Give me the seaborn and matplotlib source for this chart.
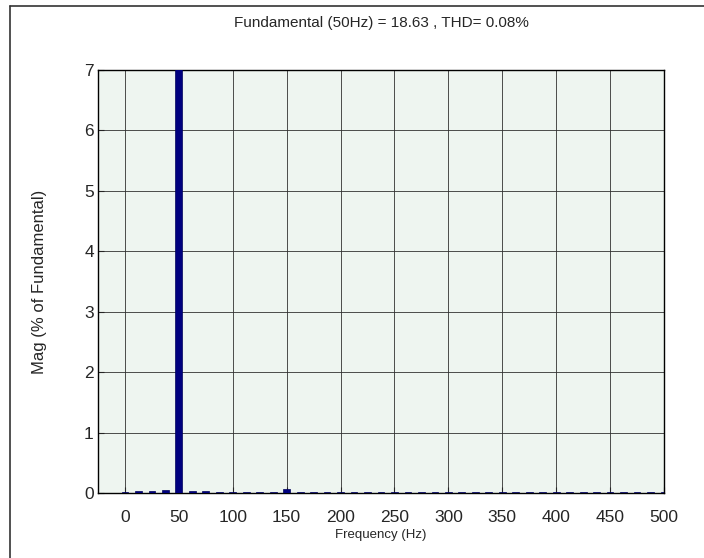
import matplotlib
matplotlib.use("Agg")
import matplotlib.pyplot as plt
import matplotlib.lines as mlines
import seaborn as sns
import pandas as pd
from matplotlib import font_manager

freqs = [0, 12.5, 25, 37.5, 50, 62.5, 75, 87.5, 100, 112.5, 125, 137.5, 150,
         162.5, 175, 187.5, 200, 212.5, 225, 237.5, 250, 262.5, 275, 287.5,
         300, 312.5, 325, 337.5, 350, 362.5, 375, 387.5, 400, 412.5, 425,
         437.5, 450, 462.5, 475, 487.5, 500]
mags = [0.01, 0.03, 0.03, 0.045, 100.0, 0.04, 0.03, 0.015, 0.015, 0.015, 0.015,
        0.015, 0.07, 0.015, 0.015, 0.015, 0.015, 0.015, 0.015, 0.015, 0.015,
        0.015, 0.015, 0.015, 0.015, 0.015, 0.015, 0.015, 0.015, 0.015, 0.015,
        0.015, 0.015, 0.015, 0.015, 0.015, 0.015, 0.015, 0.015, 0.015, 0.015]
xticks = [0, 50, 100, 150, 200, 250, 300, 350, 400, 450, 500]
yticks = [0, 1, 2, 3, 4, 5, 6, 7]
title = "Fundamental (50Hz) = 18.63 , THD= 0.08%"
xlabel = "Frequency (Hz)"
ylabel = "Mag (% of Fundamental)"

sns.set_style("white")
avail = {f.name for f in font_manager.fontManager.ttflist}
narrow = [f for f in ["Liberation Sans Narrow", "Liberation Sans", "DejaVu Sans"] if f in avail]
regular = [f for f in ["Liberation Sans", "DejaVu Sans"] if f in avail]
plt.rcParams["font.family"] = narrow

df = pd.DataFrame({"freq": freqs, "mag": mags})

fig = plt.figure(figsize=(7.04, 5.58), dpi=100)
ax = fig.add_axes([98 / 704, 1 - 493 / 558, (664 - 98) / 704, (493 - 70) / 558])
ax.set_facecolor("#eef5f0")

sns.barplot(data=df, x="freq", y="mag", native_scale=True, width=0.5,
            color="#00007f", saturation=1, edgecolor="#00005a", linewidth=0.5,
            ax=ax, zorder=3)

ax.set_xlim(-25, 500)
ax.set_ylim(0, 7)
ax.set_xticks(xticks)
ax.set_xticklabels([str(t) for t in xticks])
ax.set_yticks(yticks)
ax.set_yticklabels([str(t) for t in yticks])
ax.grid(True, color="#303030", linewidth=0.6, linestyle="-", zorder=0)
ax.set_axisbelow(True)
ax.tick_params(direction="in", length=4, width=0.8, labelsize=12.5,
               top=False, right=False, bottom=True, left=True)
ax.tick_params(axis="x", pad=12)
ax.tick_params(axis="y", pad=3)
for s in ax.spines.values():
    s.set_color("black")
    s.set_linewidth(1.0)

ax.set_title(title, fontsize=11, pad=31)
ax.set_xlabel(xlabel, fontsize=9.5, labelpad=3)
ax.set_ylabel(ylabel, fontsize=12, family=regular, labelpad=27)

# figure frame (top and left border)
fig.add_artist(mlines.Line2D([10 / 704, 1.0], [1 - 6 / 558, 1 - 6 / 558],
                             transform=fig.transFigure, color="#333333", linewidth=1.2))
fig.add_artist(mlines.Line2D([10 / 704, 10 / 704], [0.0, 1 - 6 / 558],
                             transform=fig.transFigure, color="#333333", linewidth=1.2))

fig.savefig("out.png", dpi=100, facecolor="white")
